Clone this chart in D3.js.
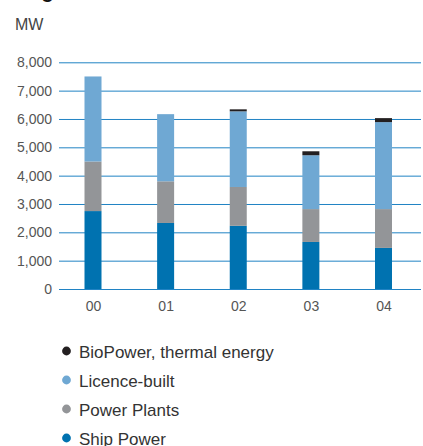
<!DOCTYPE html>
<html>
<head>
<meta charset="utf-8">
<script src="https://cdn.jsdelivr.net/npm/d3@7"></script>
<style>
  html, body { margin: 0; padding: 0; background: #fff; }
  svg { display: block; }
  text { font-family: "Liberation Sans", Arial, sans-serif; }
</style>
</head>
<body>
<svg id="chart" width="423" height="446"></svg>
<script>
// Engine deliveries by business, MW
const years = ["00", "01", "02", "03", "04"];
const shipPower    = [2750, 2330, 2230, 1660, 1450];
const powerPlants  = [1750, 1470, 1370, 1160, 1370];
const licenceBuilt = [3000, 2370, 2670, 1900, 3070];
const bioPower     = [0, 0, 70, 140, 140];
const yTicks = [0, 1000, 2000, 3000, 4000, 5000, 6000, 7000, 8000];

const seriesKeys   = ["ship", "plants", "licence", "bio"];
const seriesNames  = ["Ship Power", "Power Plants", "Licence-built", "BioPower, thermal energy"];
const seriesColors = ["#0072b0", "#939598", "#6fa8d3", "#231f20"];

const rows = years.map((y, i) => ({
  year: y,
  ship: shipPower[i],
  plants: powerPlants[i],
  licence: licenceBuilt[i],
  bio: bioPower[i]
}));

const svg = d3.select("#chart");

// Title (sits above the visible area)
svg.append("text")
  .attr("x", 16).attr("y", -2)
  .attr("font-size", 20).attr("font-weight", "bold").attr("fill", "#111")
  .text("Engine deliveries");

svg.append("text")
  .attr("x", 15).attr("y", 30)
  .attr("font-size", 16).attr("fill", "#444")
  .text("MW");

const x = d3.scalePoint().domain(years).range([93, 383.5]);
const y = d3.scaleLinear().domain([0, 8000]).range([289, 62.3]);
const barW = 17;

// Grid lines with tick labels
const axis = d3.axisLeft(y).tickValues(yTicks)
  .tickFormat(d3.format(",")).tickSize(-(421 - 59)).tickPadding(7);
const g = svg.append("g").attr("transform", "translate(59,0)").call(axis);
g.select(".domain").remove();
g.selectAll(".tick line").attr("stroke", "#2083c4").attr("stroke-width", 1);
g.selectAll(".tick text").attr("font-size", 14).attr("fill", "#555")
  .attr("font-family", "Liberation Sans, Arial, sans-serif");

// Stacked bars
const stack = d3.stack().keys(seriesKeys)(rows);
const color = d3.scaleOrdinal().domain(seriesKeys).range(seriesColors);
svg.append("g").selectAll("g").data(stack).join("g")
  .attr("fill", d => color(d.key))
  .selectAll("rect").data(d => d).join("rect")
  .attr("x", d => x(d.data.year) - barW / 2)
  .attr("width", barW)
  .attr("y", d => y(d[1]))
  .attr("height", d => y(d[0]) - y(d[1]));

// Category labels
const xa = d3.axisBottom(x).tickSize(0).tickPadding(12);
const gx = svg.append("g").attr("transform", "translate(0,289)").call(xa);
gx.select(".domain").remove();
gx.selectAll(".tick text").attr("font-size", 14).attr("fill", "#555")
  .attr("font-family", "Liberation Sans, Arial, sans-serif");

// Legend
const legendOrder = [3, 2, 1, 0];
const leg = svg.append("g").selectAll("g").data(legendOrder).join("g")
  .attr("transform", (d, i) => `translate(66.5,${351 + i * 29})`);
leg.append("circle").attr("r", 4.4).attr("fill", d => seriesColors[d]);
leg.append("text").attr("x", 12.5).attr("y", 6.5)
  .attr("font-size", 17).attr("fill", "#333")
  .text(d => seriesNames[d]);
</script>
</body>
</html>
